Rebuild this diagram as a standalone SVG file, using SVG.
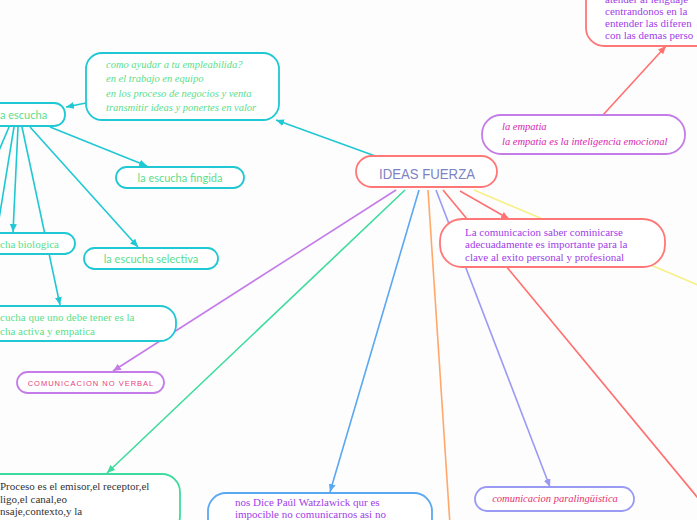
<svg xmlns="http://www.w3.org/2000/svg" width="697" height="520" viewBox="0 0 697 520">
<defs>
<style>
.n{fill:#fff;stroke-width:1.8}
.cy{stroke:#1fc8d2}
.rd{stroke:#ff7777}
.pu{stroke:#c47ce8}
.bl{stroke:#5aa8f2}
.lv{stroke:#9a9af5}
.tg{stroke:#3ddc9e}
.ln{fill:none;stroke-width:1.6}
.sans{font-family:Lato,"Noto Sans",sans-serif;font-size:11px;fill:#5ade8c}
.serif{font-family:"Liberation Serif","DejaVu Serif",serif;font-size:11px}
.script{font-family:"Liberation Serif","DejaVu Serif",serif;font-style:italic;font-size:10.5px}
</style>
<marker id="aCy" viewBox="0 0 8 7" refX="8" refY="3.5" markerWidth="8" markerHeight="7" markerUnits="userSpaceOnUse" orient="auto"><path d="M0,0L8,3.5L0,7z" fill="#1fc8d2"/></marker>
<marker id="aRd" viewBox="0 0 8 7" refX="8" refY="3.5" markerWidth="8" markerHeight="7" markerUnits="userSpaceOnUse" orient="auto"><path d="M0,0L8,3.5L0,7z" fill="#ff7070"/></marker>
<marker id="aPu" viewBox="0 0 8 7" refX="8" refY="3.5" markerWidth="8" markerHeight="7" markerUnits="userSpaceOnUse" orient="auto"><path d="M0,0L8,3.5L0,7z" fill="#c47ce8"/></marker>
<marker id="aTg" viewBox="0 0 8 7" refX="8" refY="3.5" markerWidth="8" markerHeight="7" markerUnits="userSpaceOnUse" orient="auto"><path d="M0,0L8,3.5L0,7z" fill="#3ddc9e"/></marker>
<marker id="aBl" viewBox="0 0 8 7" refX="8" refY="3.5" markerWidth="8" markerHeight="7" markerUnits="userSpaceOnUse" orient="auto"><path d="M0,0L8,3.5L0,7z" fill="#5aa8f2"/></marker>
<marker id="aLv" viewBox="0 0 8 7" refX="8" refY="3.5" markerWidth="8" markerHeight="7" markerUnits="userSpaceOnUse" orient="auto"><path d="M0,0L8,3.5L0,7z" fill="#9a9af5"/></marker>
</defs>
<rect width="697" height="520" fill="#fdfdfd"/>

<g id="connectors">
<line class="ln" stroke="#1fc8d2" x1="378" y1="157" x2="276" y2="120" marker-end="url(#aCy)"/>
<line class="ln" stroke="#1fc8d2" x1="86" y1="103" x2="66" y2="107" marker-end="url(#aCy)"/>
<line class="ln" stroke="#1fc8d2" x1="50" y1="127" x2="147" y2="166" marker-end="url(#aCy)"/>
<line class="ln" stroke="#1fc8d2" x1="30" y1="127" x2="138" y2="247" marker-end="url(#aCy)"/>
<line class="ln" stroke="#1fc8d2" x1="22" y1="127" x2="60" y2="305" marker-end="url(#aCy)"/>
<line class="ln" stroke="#1fc8d2" x1="18" y1="127" x2="13" y2="232" marker-end="url(#aCy)"/>
<line class="ln" stroke="#1fc8d2" x1="14" y1="127" x2="-6" y2="250"/>
<line class="ln" stroke="#1fc8d2" x1="9" y1="127" x2="-20" y2="195"/>
<line class="ln" stroke="#c47ce8" x1="396" y1="190" x2="113" y2="371" marker-end="url(#aPu)"/>
<line class="ln" stroke="#3ddc9e" x1="405" y1="190" x2="107" y2="473" marker-end="url(#aTg)"/>
<line class="ln" stroke="#5aa8f2" x1="419" y1="190" x2="330" y2="492" marker-end="url(#aBl)"/>
<line class="ln" stroke="#ffa86a" x1="428" y1="190" x2="450" y2="525"/>
<line class="ln" stroke="#9a9af5" x1="436" y1="190" x2="550" y2="487" marker-end="url(#aLv)"/>
<line class="ln" stroke="#ff7070" x1="443" y1="190" x2="712" y2="515"/>
<line class="ln" stroke="#ff7070" x1="460" y1="191" x2="509" y2="219" marker-end="url(#aRd)"/>
<line class="ln" stroke="#f8ef86" x1="474" y1="190" x2="712" y2="291"/>
<line class="ln" stroke="#ff7070" x1="603" y1="115" x2="666" y2="46" marker-end="url(#aRd)"/>
</g>

<g id="n-central">
<rect class="n rd" x="356" y="156" width="141" height="31" rx="15.5"/>
<text x="427" y="179" text-anchor="middle" font-family="'Liberation Sans',sans-serif" font-size="15" font-weight="300" fill="#7d82c2" textLength="96" lengthAdjust="spacingAndGlyphs">IDEAS FUERZA</text>
</g>

<g id="n-como">
<rect class="n cy" x="86" y="53" width="193" height="67" rx="16"/>
<text class="script" fill="#5ade8c"><tspan x="106" y="68">como ayudar a tu empleabilida?</tspan><tspan x="106" y="82">en el trabajo en equipo</tspan><tspan x="106" y="97">en los proceso de negocios y venta</tspan><tspan x="106" y="111">transmitir ideas y ponertes en valor</tspan></text>
</g>

<g id="n-escucha">
<rect class="n cy" x="-20" y="103" width="85" height="23" rx="11"/>
<text class="sans" x="0" y="119" font-size="12">a escucha</text>
</g>

<g id="n-fingida">
<rect class="n cy" x="116" y="167" width="128" height="21" rx="10.5"/>
<text class="sans" x="180" y="182" text-anchor="middle">la escucha fingida</text>
</g>

<g id="n-biologica">
<rect class="n cy" x="-20" y="233" width="95" height="21" rx="10.5"/>
<text class="serif" x="0" y="248" fill="#5ade8c">cha biologica</text>
</g>

<g id="n-selectiva">
<rect class="n cy" x="84" y="248" width="134" height="21" rx="10.5"/>
<text class="sans" x="151" y="263" text-anchor="middle">la escucha selectiva</text>
</g>

<g id="n-activa">
<rect class="n cy" x="-20" y="306" width="196" height="35" rx="16"/>
<text class="serif" fill="#5ade8c"><tspan x="0" y="321">cucha que uno debe tener es la</tspan><tspan x="0" y="335">cha activa y empatica</tspan></text>
</g>

<g id="n-noverbal">
<rect class="n pu" x="17" y="372" width="147" height="21" rx="10.5"/>
<text x="91" y="386" text-anchor="middle" font-family="'Liberation Sans',sans-serif" font-size="7.5" letter-spacing="1" fill="#e8407a">COMUNICACION NO VERBAL</text>
</g>

<g id="n-proceso">
<rect class="n tg" x="-20" y="474" width="200" height="60" rx="18"/>
<text class="serif" fill="#333"><tspan x="0" y="490">Proceso es el emisor,el receptor,el</tspan><tspan x="0" y="503">ligo,el canal,eo</tspan><tspan x="0" y="515">nsaje,contexto,y la</tspan></text>
</g>

<g id="n-paul">
<rect class="n bl" x="208" y="493" width="224" height="50" rx="18"/>
<text class="serif" fill="#a040e8"><tspan x="235" y="506">nos Dice Paúl Watzlawick qur es</tspan><tspan x="235" y="517.5">impocible no comunicarnos asi no</tspan></text>
</g>

<g id="n-paraling">
<rect class="n lv" x="475" y="487" width="159" height="24" rx="12"/>
<text class="script" x="555" y="502" text-anchor="middle" fill="#e8306e">comunicacion paralingüistica</text>
</g>

<g id="n-comunicacion">
<rect class="n rd" x="440" y="219" width="225" height="48" rx="22"/>
<text class="serif" fill="#a040e8"><tspan x="465" y="236">La comunicacion saber cominicarse</tspan><tspan x="465" y="248">adecuadamente es importante para la</tspan><tspan x="465" y="261">clave al exito personal y profesional</tspan></text>
</g>

<g id="n-empatia">
<rect class="n pu" x="482" y="115" width="203" height="39" rx="19"/>
<text class="script" fill="#d824b0"><tspan x="502" y="130">la empatia</tspan><tspan x="502" y="145">la empatia es la inteligencia emocional</tspan></text>
</g>

<g id="n-topright">
<rect class="n rd" x="586" y="-30" width="140" height="76" rx="18"/>
<text class="serif" fill="#a040e8"><tspan x="605" y="3">atender al lenguaje</tspan><tspan x="605" y="15">centrandonos en la</tspan><tspan x="605" y="27">entender las diferen</tspan><tspan x="605" y="39">con las demas perso</tspan></text>
</g>
</svg>
